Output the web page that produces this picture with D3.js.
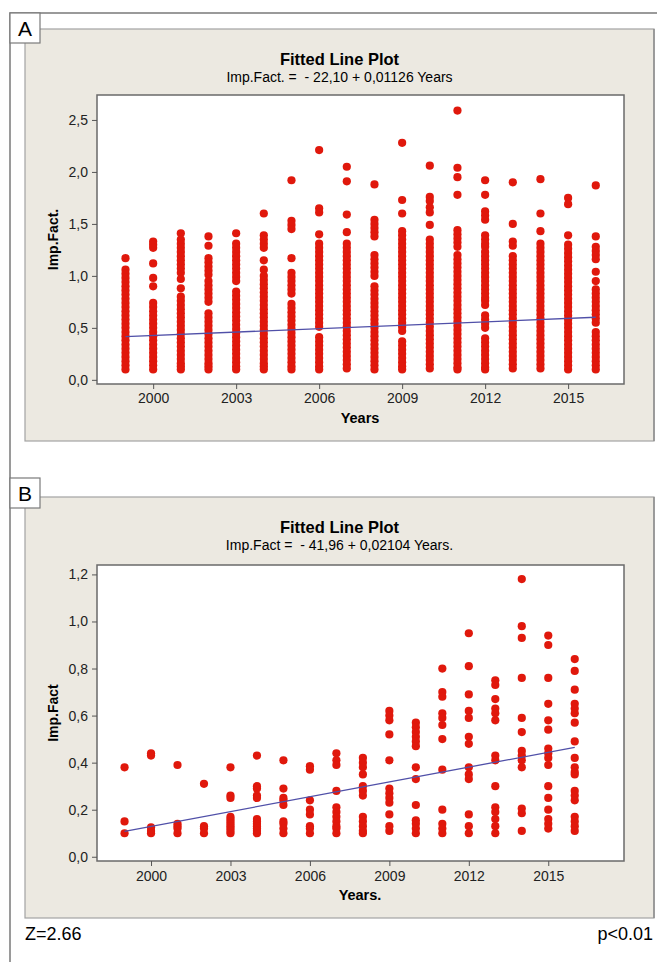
<!DOCTYPE html>
<html>
<head>
<meta charset="utf-8">
<script src="https://cdn.jsdelivr.net/npm/d3@7"></script>
<style>
  body { margin: 0; background: #fff; }
  svg { display: block; }
  text { font-family: "Liberation Sans", Arial, sans-serif; }
</style>
</head>
<body>
<svg width="657" height="962"></svg>
<script>
// years on the x axis (both panels)
var years = [1999, 2000, 2001, 2002, 2003, 2004, 2005, 2006, 2007, 2008,
             2009, 2010, 2011, 2012, 2013, 2014, 2015, 2016];
var yearTicks = [2000, 2003, 2006, 2009, 2012, 2015];

// panel A: Imp.Fact. values, one row per year (dense columns read as stacked dots)
var impFactA = [
  [1.17, 1.06, 1.02, 0.98, 0.94, 0.90, 0.86, 0.82, 0.78, 0.74, 0.70, 0.66, 0.62, 0.58, 0.54, 0.50, 0.46, 0.42, 0.38, 0.34, 0.30, 0.26, 0.22, 0.18, 0.14, 0.10],
  [1.33, 1.30, 1.27, 1.12, 0.98, 0.90, 0.74, 0.70, 0.66, 0.62, 0.58, 0.54, 0.50, 0.46, 0.42, 0.38, 0.34, 0.30, 0.26, 0.22, 0.18, 0.14, 0.10],
  [1.41, 1.35, 1.31, 1.27, 1.23, 1.19, 1.15, 1.11, 1.07, 1.03, 0.97, 0.88, 0.80, 0.76, 0.72, 0.68, 0.64, 0.60, 0.56, 0.52, 0.48, 0.44, 0.40, 0.36, 0.32, 0.28, 0.24, 0.20, 0.16, 0.13, 0.10],
  [1.38, 1.29, 1.17, 1.13, 1.09, 1.05, 1.01, 0.95, 0.91, 0.87, 0.83, 0.79, 0.75, 0.64, 0.60, 0.56, 0.52, 0.48, 0.44, 0.40, 0.36, 0.32, 0.28, 0.24, 0.20, 0.16, 0.13, 0.10],
  [1.41, 1.31, 1.27, 1.23, 1.19, 1.15, 1.11, 1.07, 1.03, 0.99, 0.95, 0.85, 0.81, 0.77, 0.73, 0.69, 0.65, 0.61, 0.57, 0.53, 0.49, 0.45, 0.41, 0.37, 0.33, 0.29, 0.25, 0.21, 0.17, 0.13, 0.10],
  [1.60, 1.39, 1.35, 1.31, 1.27, 1.15, 1.06, 1.00, 0.96, 0.92, 0.88, 0.84, 0.80, 0.76, 0.72, 0.68, 0.64, 0.60, 0.56, 0.52, 0.48, 0.44, 0.40, 0.36, 0.32, 0.28, 0.24, 0.20, 0.16, 0.13, 0.10],
  [1.92, 1.53, 1.49, 1.45, 1.17, 1.03, 0.99, 0.95, 0.91, 0.87, 0.83, 0.73, 0.69, 0.65, 0.61, 0.57, 0.53, 0.49, 0.45, 0.41, 0.37, 0.33, 0.29, 0.25, 0.21, 0.17, 0.13, 0.10],
  [2.21, 1.65, 1.61, 1.40, 1.31, 1.27, 1.23, 1.19, 1.15, 1.11, 1.07, 1.03, 0.99, 0.95, 0.91, 0.87, 0.83, 0.79, 0.75, 0.71, 0.67, 0.63, 0.59, 0.55, 0.51, 0.41, 0.37, 0.33, 0.29, 0.25, 0.21, 0.17, 0.13, 0.10],
  [2.05, 1.91, 1.59, 1.42, 1.31, 1.27, 1.23, 1.19, 1.15, 1.11, 1.07, 1.03, 0.99, 0.95, 0.91, 0.87, 0.83, 0.79, 0.75, 0.71, 0.67, 0.63, 0.59, 0.55, 0.51, 0.47, 0.43, 0.39, 0.35, 0.31, 0.27, 0.23, 0.19, 0.15, 0.11],
  [1.88, 1.54, 1.50, 1.46, 1.42, 1.38, 1.20, 1.16, 1.12, 1.08, 1.04, 1.00, 0.90, 0.86, 0.82, 0.78, 0.74, 0.70, 0.66, 0.62, 0.58, 0.54, 0.50, 0.46, 0.42, 0.38, 0.34, 0.30, 0.26, 0.22, 0.18, 0.14, 0.10],
  [2.28, 1.73, 1.60, 1.43, 1.39, 1.35, 1.31, 1.27, 1.23, 1.19, 1.15, 1.11, 1.07, 1.03, 0.99, 0.95, 0.91, 0.87, 0.83, 0.79, 0.75, 0.71, 0.67, 0.63, 0.59, 0.55, 0.51, 0.47, 0.37, 0.33, 0.29, 0.25, 0.21, 0.17, 0.13, 0.10],
  [2.06, 1.76, 1.72, 1.66, 1.61, 1.49, 1.35, 1.31, 1.27, 1.23, 1.19, 1.15, 1.11, 1.07, 1.03, 0.99, 0.95, 0.91, 0.87, 0.83, 0.79, 0.75, 0.71, 0.67, 0.63, 0.59, 0.55, 0.51, 0.47, 0.43, 0.39, 0.35, 0.31, 0.27, 0.23, 0.19, 0.15, 0.11],
  [2.59, 2.04, 1.95, 1.78, 1.44, 1.40, 1.36, 1.32, 1.28, 1.20, 1.16, 1.12, 1.08, 1.04, 1.00, 0.96, 0.92, 0.88, 0.84, 0.80, 0.76, 0.72, 0.68, 0.64, 0.60, 0.56, 0.52, 0.48, 0.44, 0.40, 0.36, 0.32, 0.28, 0.24, 0.20, 0.16, 0.12, 0.10],
  [1.92, 1.78, 1.62, 1.58, 1.54, 1.39, 1.35, 1.31, 1.28, 1.23, 1.19, 1.15, 1.11, 1.07, 1.03, 0.99, 0.95, 0.91, 0.87, 0.83, 0.79, 0.76, 0.72, 0.62, 0.58, 0.54, 0.50, 0.40, 0.36, 0.32, 0.28, 0.24, 0.20, 0.16, 0.12, 0.10],
  [1.90, 1.50, 1.33, 1.29, 1.19, 1.15, 1.11, 1.07, 1.03, 0.99, 0.95, 0.91, 0.87, 0.83, 0.79, 0.75, 0.71, 0.67, 0.63, 0.59, 0.55, 0.51, 0.47, 0.43, 0.39, 0.35, 0.31, 0.27, 0.23, 0.19, 0.15, 0.11],
  [1.93, 1.60, 1.43, 1.31, 1.27, 1.23, 1.19, 1.15, 1.11, 1.07, 1.03, 0.99, 0.95, 0.91, 0.87, 0.83, 0.79, 0.75, 0.71, 0.67, 0.63, 0.59, 0.55, 0.51, 0.47, 0.43, 0.39, 0.35, 0.31, 0.27, 0.23, 0.19, 0.15, 0.11],
  [1.75, 1.69, 1.39, 1.30, 1.26, 1.22, 1.18, 1.14, 1.10, 1.06, 1.02, 0.98, 0.94, 0.90, 0.86, 0.82, 0.78, 0.74, 0.70, 0.66, 0.62, 0.58, 0.54, 0.50, 0.46, 0.42, 0.38, 0.34, 0.30, 0.26, 0.22, 0.18, 0.14, 0.10],
  [1.87, 1.38, 1.28, 1.24, 1.20, 1.16, 1.04, 0.95, 0.87, 0.83, 0.79, 0.75, 0.71, 0.67, 0.63, 0.59, 0.55, 0.46, 0.42, 0.38, 0.34, 0.30, 0.26, 0.22, 0.18, 0.14, 0.10]
];
var fitA = [0.416, 0.602];            // fitted line at 1999 and 2016
var yTicksA = [0, 0.5, 1, 1.5, 2, 2.5];

// panel B: Imp.Fact values, one row per year
var impFactB = [
  [0.38, 0.15, 0.10],
  [0.44, 0.43, 0.125, 0.11, 0.10],
  [0.39, 0.14, 0.13, 0.12, 0.10],
  [0.31, 0.13, 0.12, 0.10],
  [0.38, 0.26, 0.25, 0.17, 0.16, 0.15, 0.14, 0.13, 0.12, 0.11, 0.10],
  [0.43, 0.30, 0.29, 0.26, 0.25, 0.16, 0.15, 0.14, 0.13, 0.12, 0.11, 0.10],
  [0.41, 0.29, 0.25, 0.24, 0.22, 0.15, 0.14, 0.12, 0.10],
  [0.385, 0.37, 0.24, 0.20, 0.18, 0.13, 0.12, 0.10],
  [0.44, 0.41, 0.39, 0.28, 0.21, 0.19, 0.17, 0.15, 0.13, 0.12, 0.10],
  [0.42, 0.40, 0.38, 0.35, 0.30, 0.28, 0.26, 0.17, 0.15, 0.13, 0.11, 0.10],
  [0.62, 0.60, 0.58, 0.52, 0.41, 0.29, 0.27, 0.25, 0.23, 0.18, 0.13, 0.11],
  [0.57, 0.55, 0.53, 0.51, 0.49, 0.47, 0.38, 0.33, 0.22, 0.155, 0.14, 0.12, 0.10],
  [0.80, 0.70, 0.68, 0.61, 0.59, 0.56, 0.50, 0.37, 0.20, 0.14, 0.12, 0.10],
  [0.95, 0.81, 0.69, 0.62, 0.59, 0.51, 0.48, 0.38, 0.35, 0.33, 0.18, 0.13, 0.10],
  [0.75, 0.73, 0.67, 0.63, 0.61, 0.58, 0.43, 0.41, 0.30, 0.21, 0.19, 0.16, 0.13, 0.10],
  [1.18, 0.98, 0.93, 0.76, 0.59, 0.53, 0.45, 0.43, 0.41, 0.38, 0.205, 0.185, 0.11],
  [0.94, 0.90, 0.76, 0.65, 0.58, 0.54, 0.46, 0.44, 0.42, 0.39, 0.30, 0.25, 0.20, 0.16, 0.14, 0.12],
  [0.84, 0.79, 0.71, 0.65, 0.63, 0.61, 0.57, 0.49, 0.42, 0.38, 0.36, 0.35, 0.28, 0.26, 0.24, 0.17, 0.15, 0.13, 0.11]
];
var fitB = [0.108, 0.465];
var yTicksB = [0, 0.2, 0.4, 0.6, 0.8, 1.0, 1.2];

var svg = d3.select('svg');
var commaFmt = function(d) { return d3.format('.1f')(d).replace('.', ','); };

// outer frame (top and left rules)
svg.append('path')
  .attr('d', 'M10,962V13H657')
  .attr('fill', 'none').attr('stroke', '#7a7a7a').attr('stroke-width', 1.5);

function drawPanel(o) {
  // beige panel
  svg.append('rect')
    .attr('x', 25).attr('y', o.top).attr('width', 629).attr('height', o.h)
    .attr('fill', '#ece9e1').attr('stroke', '#a3a3a3').attr('stroke-width', 1.2);
  // darker right edge
  svg.append('line')
    .attr('x1', 654).attr('y1', o.top).attr('x2', 654).attr('y2', o.top + o.h)
    .attr('stroke', '#8e8e8e').attr('stroke-width', 1.5);

  // letter box
  svg.append('rect')
    .attr('x', 10).attr('y', o.boxY).attr('width', 30).attr('height', 30)
    .attr('fill', '#fff').attr('stroke', '#7a7a7a').attr('stroke-width', 1.2);
  svg.append('text')
    .attr('x', 25).attr('y', o.boxY + 23).attr('text-anchor', 'middle')
    .style('font-size', '21px').text(o.letter);

  var x = d3.scaleLinear().domain(o.xDom).range([97, 624]);
  var y = d3.scaleLinear().domain(o.yDom).range([o.pb, o.pt]);

  svg.append('rect')
    .attr('x', 97).attr('y', o.pt).attr('width', 527).attr('height', o.pb - o.pt)
    .attr('fill', '#fff').attr('stroke', '#6a6a6a').attr('stroke-width', 1.5);

  // titles
  svg.append('text')
    .attr('x', 339.5).attr('y', o.titleY).attr('text-anchor', 'middle')
    .style('font-size', '16.5px').style('font-weight', 'bold').text('Fitted Line Plot');
  svg.append('text')
    .attr('x', 339.5).attr('y', o.titleY + 17).attr('text-anchor', 'middle')
    .style('font-size', '14px').style('white-space', 'pre').attr('xml:space', 'preserve')
    .text(o.subtitle);

  // axes
  var gx = svg.append('g')
    .attr('transform', 'translate(0,' + o.pb + ')')
    .call(d3.axisBottom(x).tickValues(yearTicks).tickFormat(d3.format('d'))
      .tickSize(5).tickPadding(o.xPad));
  var gy = svg.append('g')
    .attr('transform', 'translate(97,0)')
    .call(d3.axisLeft(y).tickValues(o.yTicks).tickFormat(commaFmt)
      .tickSize(5).tickPadding(4));
  [gx, gy].forEach(function(g) {
    g.select('.domain').remove();
    g.selectAll('line').attr('stroke', '#555');
    g.selectAll('text').attr('fill', '#222')
      .style('font-size', '14px').style('font-family', '"Liberation Sans", Arial, sans-serif');
  });

  svg.append('text')
    .attr('x', 360).attr('y', o.xLabY).attr('text-anchor', 'middle')
    .style('font-size', '14.5px').style('font-weight', 'bold').text(o.xLabel);
  svg.append('text')
    .attr('transform', 'translate(58,' + ((o.pt + o.pb) / 2) + ') rotate(-90)')
    .attr('text-anchor', 'middle')
    .style('font-size', '14px').style('font-weight', 'bold').text(o.yLabel);

  // points
  var pts = [];
  years.forEach(function(yr, i) {
    o.values[i].forEach(function(v) { pts.push({ yr: yr, v: v }); });
  });
  svg.append('g').selectAll('circle')
    .data(pts).enter().append('circle')
    .attr('cx', function(d) { return x(d.yr); })
    .attr('cy', function(d) { return y(d.v); })
    .attr('r', 4.1)
    .attr('fill', '#e0180c');

  // fitted line
  svg.append('line')
    .attr('x1', x(years[0])).attr('y1', y(o.fit[0]))
    .attr('x2', x(years[years.length - 1])).attr('y2', y(o.fit[1]))
    .attr('stroke', '#5050a8').attr('stroke-width', 1.3);
}

drawPanel({
  letter: 'A', boxY: 13, top: 29, h: 412,
  pt: 95, pb: 384, xDom: [1997.97, 2017.02], yDom: [-0.04, 2.74],
  titleY: 65, subtitle: 'Imp.Fact. =  - 22,10 + 0,01126 Years',
  yTicks: yTicksA, xPad: 4, xLabY: 423, xLabel: 'Years', yLabel: 'Imp.Fact.',
  values: impFactA, fit: fitA
});

drawPanel({
  letter: 'B', boxY: 478, top: 497, h: 421,
  pt: 565, pb: 861, xDom: [1997.96, 2017.86], yDom: [-0.018, 1.24],
  titleY: 533, subtitle: 'Imp.Fact =  - 41,96 + 0,02104 Years.',
  yTicks: yTicksB, xPad: 5, xLabY: 900, xLabel: 'Years.', yLabel: 'Imp.Fact',
  values: impFactB, fit: fitB
});

svg.append('text').attr('x', 25).attr('y', 940)
  .style('font-size', '18px').text('Z=2.66');
svg.append('text').attr('x', 653).attr('y', 940).attr('text-anchor', 'end')
  .style('font-size', '18px').text('p<0.01');
</script>
</body>
</html>
